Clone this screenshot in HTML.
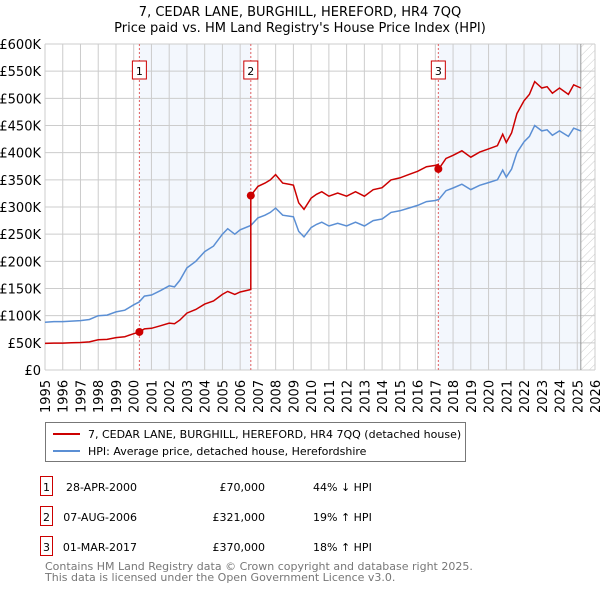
<!DOCTYPE html>
<html><head><meta charset="utf-8"><style>
body{margin:0;background:#fff;width:600px;height:590px;overflow:hidden;font-family:"DejaVu Sans","Liberation Sans",sans-serif}
text{font-family:"DejaVu Sans","Liberation Sans",sans-serif}
</style></head><body>
<svg id="c" width="600" height="590" xmlns="http://www.w3.org/2000/svg"></svg>
<script>
const hpiYears=[1995,1995.5,1996,1996.5,1997,1997.5,1998,1998.5,1999,1999.5,2000,2000.3,2000.6,2001,2001.5,2002,2002.3,2002.6,2003,2003.5,2004,2004.5,2005,2005.3,2005.7,2006,2006.6,2007,2007.4,2007.7,2008,2008.4,2008.8,2009,2009.3,2009.6,2010,2010.3,2010.6,2011,2011.5,2012,2012.5,2013,2013.5,2014,2014.5,2015,2015.5,2016,2016.5,2017,2017.2,2017.6,2018,2018.5,2019,2019.5,2020,2020.5,2020.8,2021,2021.3,2021.6,2022,2022.3,2022.6,2023,2023.3,2023.6,2024,2024.5,2024.8,2025.2];
const hpiValues=[88,89,89,90,91,93,100,101,107,110,120,125,136,138,146,155,153,165,188,200,218,228,250,260,250,258,266,280,285,290,298,285,283,282,255,245,262,268,272,265,270,265,272,265,275,278,290,293,298,303,310,312,314,330,335,342,332,340,345,350,368,355,370,400,420,430,450,440,442,432,440,430,445,440];
const saleYears=[2000.32,2006.6,2017.17];
const salePrices=[70000,321000,370000];
const saleLabels=["1","2","3"];
const yTicks=[0,50,100,150,200,250,300,350,400,450,500,550,600];
const xTicks=[];for(let y=1995;y<=2026;y++)xTicks.push(y);
const svg=document.getElementById('c');const NS='http://www.w3.org/2000/svg';
function mk(t,a,p){const e=document.createElementNS(NS,t);for(const k in a)e.setAttribute(k,a[k]);(p||svg).appendChild(e);return e;}
const X=y=>45+(y-1995)*550/31, Y=v=>370-v*326/600;
function hpiAt(t){for(let i=1;i<hpiYears.length;i++)if(t<=hpiYears[i]){const f=(t-hpiYears[i-1])/(hpiYears[i]-hpiYears[i-1]);return hpiValues[i-1]+f*(hpiValues[i]-hpiValues[i-1]);}return hpiValues[hpiValues.length-1];}
let e;
e=mk('text',{x:300,y:16,'text-anchor':'middle','font-size':13});e.textContent='7, CEDAR LANE, BURGHILL, HEREFORD, HR4 7QQ';
e=mk('text',{x:300,y:32,'text-anchor':'middle','font-size':13});e.textContent="Price paid vs. HM Land Registry's House Price Index (HPI)";
// shading
e=mk('rect',{x:X(saleYears[0]),y:44,width:X(saleYears[1])-X(saleYears[0]),height:326,fill:'#eef3fc',opacity:0.7});
e=mk('rect',{x:X(saleYears[2]),y:44,width:X(2025.2)-X(saleYears[2]),height:326,fill:'#eef3fc',opacity:0.7});
const defs=mk('defs',{});const pat=mk('pattern',{id:'h',width:6,height:6,patternUnits:'userSpaceOnUse',patternTransform:'rotate(45)'},defs);mk('line',{x1:0,y1:0,x2:0,y2:6,stroke:'#ccc','stroke-width':1},pat);
e=mk('rect',{x:X(2025.2),y:44,width:595-X(2025.2),height:326,fill:'url(#h)'});
// grid
xTicks.forEach(t=>{e=mk('line',{x1:X(t),y1:44,x2:X(t),y2:370,stroke:'#ccc'});
 e=mk('text',{transform:`translate(${X(t)+5},${413}) rotate(-90)`,'font-size':13});e.textContent=t;});
yTicks.forEach(v=>{e=mk('line',{x1:45,y1:Y(v*1000/1000),x2:595,y2:Y(v),stroke:'#ccc'});
 e=mk('text',{x:41,y:Y(v)+5,'text-anchor':'end','font-size':13});e.textContent=v?'£'+v+'K':'£0';});
e=mk('line',{x1:X(2025.2),y1:44,x2:X(2025.2),y2:370,stroke:'#999'});
// sale lines
saleYears.forEach((s,i)=>{e=mk('line',{x1:X(s),y1:44,x2:X(s),y2:370,stroke:'#e06060','stroke-dasharray':'2,2'});
 e=mk('rect',{x:X(s)-7,y:61,width:14,height:18,fill:'#fff',stroke:'#c00'});
 e=mk('text',{x:X(s),y:75,'text-anchor':'middle','font-size':11});e.textContent=saleLabels[i];});
// hpi line
let d=hpiYears.map((t,i)=>(i?'L':'M')+X(t).toFixed(1)+','+Y(hpiValues[i]).toFixed(1)).join('');
e=mk('path',{d:d,fill:'none',stroke:'#5b8fd4','stroke-width':1.5});
// red line
const ratios=saleYears.map((s,i)=>salePrices[i]/1000/hpiAt(s));
let pts=[];
hpiYears.forEach((t,i)=>{let r=t<saleYears[1]?ratios[0]:(t<saleYears[2]?ratios[1]:ratios[2]);if(t<saleYears[0])r=ratios[0];pts.push([t,hpiValues[i]*r]);});
saleYears.forEach((s,i)=>{if(i>0)pts.push([s-0.001,hpiAt(s)*ratios[i-1]]);pts.push([s,salePrices[i]/1000]);});
pts.sort((a,b)=>a[0]-b[0]);
d=pts.map((p,i)=>(i?'L':'M')+X(p[0]).toFixed(1)+','+Y(p[1]).toFixed(1)).join('');
e=mk('path',{d:d,fill:'none',stroke:'#cc0000','stroke-width':1.5});
saleYears.forEach((s,i)=>{e=mk('circle',{cx:X(s),cy:Y(salePrices[i]/1000),r:4,fill:'#cc0000'});});
// legend
e=mk('rect',{x:45.5,y:422.5,width:420,height:39,fill:'#fff',stroke:'#777'});
mk('line',{x1:53,y1:434,x2:80,y2:434,stroke:'#cc0000','stroke-width':2});
mk('line',{x1:53,y1:451,x2:80,y2:451,stroke:'#5b8fd4','stroke-width':2});
e=mk('text',{x:88,y:438,'font-size':11});e.textContent='7, CEDAR LANE, BURGHILL, HEREFORD, HR4 7QQ (detached house)';
e=mk('text',{x:88,y:455,'font-size':11});e.textContent='HPI: Average price, detached house, Herefordshire';
// table
const dates=['28-APR-2000','07-AUG-2006','01-MAR-2017'],prices=['£70,000','£321,000','£370,000'],rel=['44% ↓ HPI','19% ↑ HPI','18% ↑ HPI'];
[0,1,2].forEach(i=>{const y=483+i*30;
 e=mk('rect',{x:40.5,y:y-6.5,width:12,height:19,fill:'#fff',stroke:'#c00'});
 e=mk('text',{x:46.5,y:y+8,'text-anchor':'middle','font-size':11});e.textContent=String(i+1);
 e=mk('text',{x:137,y:y+8,'text-anchor':'end','font-size':11});e.textContent=dates[i];
 e=mk('text',{x:265,y:y+8,'text-anchor':'end','font-size':11});e.textContent=prices[i];
 e=mk('text',{x:313,y:y+8,'font-size':11});e.textContent=rel[i];});
e=mk('text',{x:45,y:570,'font-size':11,fill:'#777'});e.textContent='Contains HM Land Registry data © Crown copyright and database right 2025.';
e=mk('text',{x:45,y:581,'font-size':11,fill:'#777'});e.textContent='This data is licensed under the Open Government Licence v3.0.';
</script>
</body></html>
